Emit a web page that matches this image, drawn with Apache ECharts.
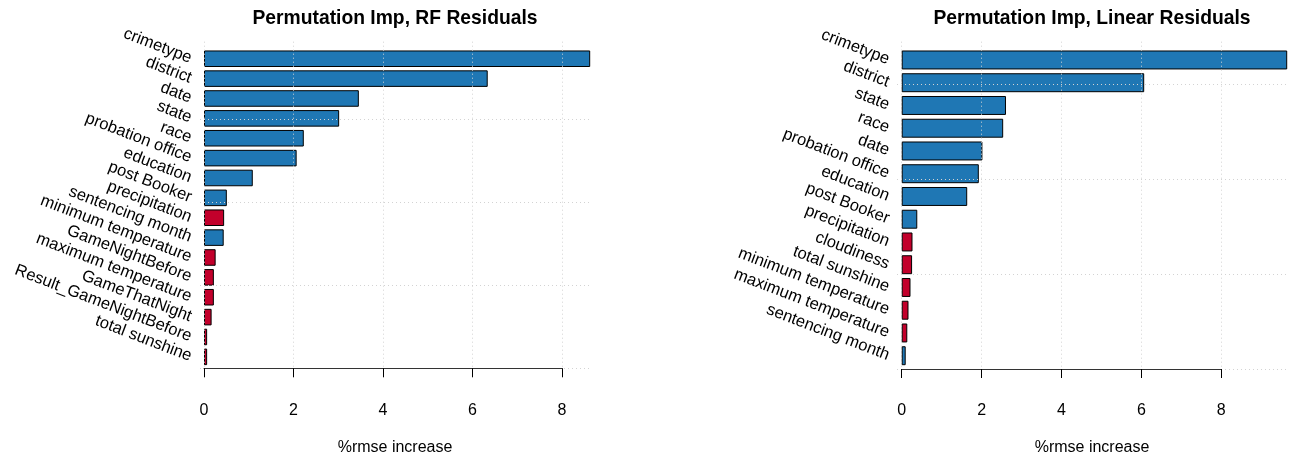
<!DOCTYPE html>
<html>
<head>
<meta charset="utf-8">
<script src="https://cdn.jsdelivr.net/npm/echarts@6/dist/echarts.min.js"></script>
<style>
html, body { margin: 0; padding: 0; background: #fff; }
#chart { width: 1289px; height: 460px; }
</style>
</head>
<body>
<div id="chart"></div>
<script>
// RF residual model
const rfNames = ['crimetype', 'district', 'date', 'state', 'race', 'probation office', 'education', 'post Booker',
  'precipitation', 'sentencing month', 'minimum temperature', 'GameNightBefore', 'maximum temperature',
  'GameThatNight', 'Result_GameNightBefore', 'total sunshine'];
const rfValues = [8.63, 6.34, 3.46, 3.02, 2.23, 2.07, 1.09, 0.51, 0.45, 0.44, 0.26, 0.22, 0.22, 0.17, 0.07, 0.07];
const rfRed = [0, 0, 0, 0, 0, 0, 0, 0, 1, 0, 1, 1, 1, 1, 1, 1];

// linear residual model
const linNames = ['crimetype', 'district', 'state', 'race', 'date', 'probation office', 'education', 'post Booker',
  'precipitation', 'cloudiness', 'total sunshine', 'minimum temperature', 'maximum temperature', 'sentencing month'];
const linValues = [9.65, 6.07, 2.61, 2.54, 2.02, 1.93, 1.64, 0.39, 0.27, 0.26, 0.22, 0.17, 0.14, 0.10];
const linRed = [0, 0, 0, 0, 0, 0, 0, 0, 1, 1, 1, 1, 1, 0];

const xTicks = [0, 2, 4, 6, 8];
const titles = ['Permutation Imp, RF Residuals', 'Permutation Imp, Linear Residuals'];
const xName = '%rmse increase';

const FONT = '"Liberation Sans", Arial, Helvetica, sans-serif';
const BLUE = '#1f77b4';
const RED = '#c2002b';
const GRIDLINE = { color: '#d3d3d3', type: [1, 3], width: 1 };

// pixel layout of each panel (R plot regions)
const panels = [
  { names: rfNames, values: rfValues, red: rfRed, gl: 200, gr: 590, al: 204, aw: 358,
    vTop: 41.7, y0: 368.3, y15: 119.3, bTop: 48.8, bH: 318, cx: 395 },
  { names: linNames, values: linValues, red: linRed, gl: 897, gr: 1289, al: 901.7, aw: 319.6,
    vTop: 41.7, y0: 369, y15: 84, bTop: 48.6, bH: 318.5, cx: 1092 }
];

const grid = [], xAxis = [], yAxis = [], series = [], title = [];
const step = xTicks[1] - xTicks[0];

panels.forEach((p, i) => {
  const g = i * 3;
  grid.push(
    { left: p.gl, top: p.y15, width: p.gr - p.gl, height: p.y0 - p.y15 },
    { left: p.al, top: p.vTop, width: p.aw, height: p.y0 - p.vTop },
    { left: p.al, top: p.bTop, width: p.aw, height: p.bH }
  );
  xAxis.push(
    { gridIndex: g, type: 'value', show: false, min: 0, max: 1 },
    { gridIndex: g + 1, type: 'value', min: xTicks[0], max: xTicks[xTicks.length - 1], interval: step,
      offset: 10, z: 5,
      axisLine: { show: true, lineStyle: { color: '#333', width: 1 } },
      axisTick: { show: true, length: 9, lineStyle: { color: '#000', width: 1 } },
      axisLabel: { fontSize: 16, color: '#000', margin: 24, fontFamily: FONT },
      splitLine: { show: true, lineStyle: GRIDLINE } },
    { gridIndex: g + 2, type: 'value', show: false, min: xTicks[0], max: xTicks[xTicks.length - 1] }
  );
  yAxis.push(
    { gridIndex: g, type: 'value', min: 0, max: 15, interval: 5, z: 5,
      axisLine: { show: false }, axisTick: { show: false }, axisLabel: { show: false },
      splitLine: { show: true, lineStyle: GRIDLINE } },
    { gridIndex: g + 1, type: 'value', show: false },
    { gridIndex: g + 2, type: 'category', inverse: true, data: p.names,
      axisLine: { show: false }, axisTick: { show: false }, splitLine: { show: false },
      axisLabel: { interval: 0, rotate: -21, fontSize: 16.5, color: '#000', margin: 13, fontFamily: FONT } }
  );
  series.push({
    type: 'bar',
    xAxisIndex: g + 2,
    yAxisIndex: g + 2,
    clip: false,
    silent: true,
    barCategoryGap: '16.7%',
    itemStyle: { borderColor: '#000', borderWidth: 1 },
    data: p.values.map((v, k) => ({ value: v, itemStyle: { color: p.red[k] ? RED : BLUE } }))
  });
  title.push(
    { text: titles[i], left: p.cx, top: 9, textAlign: 'center', padding: 0,
      textStyle: { fontSize: 19.3, fontWeight: 'bold', color: '#000', fontFamily: FONT } },
    { text: xName, left: p.cx, top: 440, textAlign: 'center', padding: 0,
      textStyle: { fontSize: 16, fontWeight: 'normal', color: '#000', fontFamily: FONT } }
  );
});

const chart = echarts.init(document.getElementById('chart'), null, { renderer: 'canvas' });
chart.setOption({
  animation: false,
  backgroundColor: '#fff',
  title,
  grid,
  xAxis,
  yAxis,
  series
});
</script>
</body>
</html>
